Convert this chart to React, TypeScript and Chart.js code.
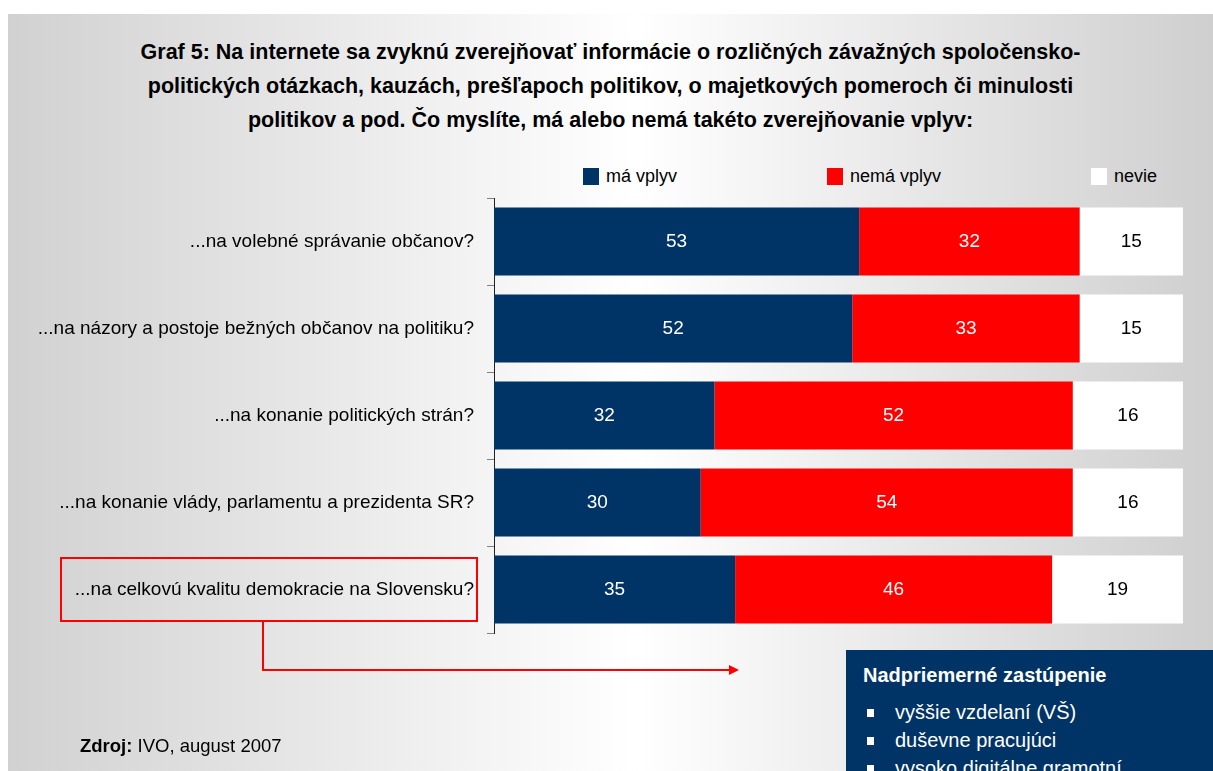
import React, { useEffect, useRef } from "react";
import { Chart, registerables } from "chart.js";

Chart.register(...registerables);

const categories = [
  "...na volebné správanie občanov?",
  "...na názory a postoje bežných občanov na politiku?",
  "...na konanie politických strán?",
  "...na konanie vlády, parlamentu a prezidenta SR?",
  "...na celkovú kvalitu demokracie na Slovensku?",
];
const seriesNames = ["má vplyv", "nemá vplyv", "nevie"];
const maVplyv = [53, 52, 32, 30, 35];
const nemaVplyv = [32, 33, 52, 54, 46];
const nevie = [15, 15, 16, 16, 19];
const seriesColors = ["#003366", "#ff0000", "#ffffff"];
const labelColors = ["#ffffff", "#ffffff", "#000000"];
const titleLines = [
  "Graf 5: Na internete sa zvyknú zverejňovať informácie o rozličných závažných spoločensko-",
  "politických otázkach, kauzách, prešľapoch politikov, o majetkových pomeroch či minulosti",
  "politikov a pod. Čo myslíte, má alebo nemá takéto zverejňovanie vplyv:",
];
const boxTitle = "Nadpriemerné zastúpenie";
const boxItems = ["vyššie vzdelaní (VŠ)", "duševne pracujúci", "vysoko digitálne gramotní"];
const sourceBold = "Zdroj:";
const sourceText = " IVO, august 2007";

const W = 1205;
const H = 757;
const FONT = "'Liberation Sans', Arial, sans-serif";

const valueLabels = {
  id: "valueLabels",
  afterDatasetsDraw(chart: any) {
    const ctx = chart.ctx;
    ctx.save();
    ctx.font = `19px ${FONT}`;
    ctx.textAlign = "center";
    ctx.textBaseline = "middle";
    chart.data.datasets.forEach((ds: any, di: number) => {
      const meta = chart.getDatasetMeta(di);
      meta.data.forEach((bar: any, i: number) => {
        const x = (bar.x + bar.base) / 2;
        ctx.fillStyle = labelColors[di];
        ctx.fillText(String(ds.data[i]), x, bar.y);
      });
    });
    ctx.restore();
  },
};

export default function App() {
  const ref = useRef<HTMLCanvasElement>(null);
  useEffect(() => {
    if (!ref.current) return;
    const data = [maVplyv, nemaVplyv, nevie];
    const chart = new Chart(ref.current, {
      type: "bar",
      data: {
        labels: categories,
        datasets: seriesNames.map((n, i) => ({
          label: n,
          data: data[i],
          backgroundColor: seriesColors[i],
          borderWidth: 0,
          barPercentage: 0.78,
          categoryPercentage: 1,
        })),
      },
      options: {
        indexAxis: "y",
        responsive: false,
        animation: false,
        layout: { padding: { left: 0, top: 184, right: 30, bottom: 138 } },
        plugins: { legend: { display: false }, tooltip: { enabled: false }, title: { display: false } },
        scales: {
          x: { stacked: true, min: 0, max: 100, display: false },
          y: {
            stacked: true,
            afterFit(scale: any) {
              scale.width = 486;
            },
            border: { display: true, color: "#222222", width: 1 },
            grid: { drawOnChartArea: false, drawTicks: true, tickLength: 7, color: "#808080", offset: true },
            ticks: { color: "#000000", font: { family: FONT, size: 19 }, padding: 13 },
          },
        },
      },
      plugins: [valueLabels],
    } as any);
    return () => chart.destroy();
  }, []);

  return (
    <div style={{ position: "fixed", left: 0, top: 0, width: 1213, height: 771, background: "#ffffff", overflow: "hidden" }}>
      <div
        style={{
          position: "absolute",
          left: 8,
          top: 14,
          width: W,
          height: H,
          overflow: "hidden",
          background: "linear-gradient(to right, #d1d1d1 0%, #ffffff 52%, #cfcfcf 100%)",
          fontFamily: FONT,
        }}
      >
        <div
          style={{
            position: "absolute",
            left: 0,
            top: 21,
            width: W,
            textAlign: "center",
            fontWeight: "bold",
            fontSize: 21.5,
            lineHeight: "34px",
            color: "#000",
            whiteSpace: "nowrap",
          }}
        >
          {titleLines.map((l, i) => (
            <div key={i}>{l}</div>
          ))}
        </div>
        {seriesNames.map((n, i) => (
          <div
            key={n}
            style={{ position: "absolute", left: [575, 819, 1083][i], top: 152, display: "flex", alignItems: "center", fontSize: 18 }}
          >
            <span style={{ display: "inline-block", width: 16, height: 17, background: seriesColors[i], marginRight: 7 }} />
            <span>{n}</span>
          </div>
        ))}
        <canvas ref={ref} width={W} height={H} style={{ position: "absolute", left: 0, top: 0 }} />
        <div
          style={{
            position: "absolute",
            left: 52,
            top: 543,
            width: 414,
            height: 61,
            border: "2px solid #ff0000",
          }}
        />
        <svg width={W} height={H} style={{ position: "absolute", left: 0, top: 0 }}>
          <polyline points="255,606 255,656 722,656" fill="none" stroke="#ff0000" strokeWidth={2} />
          <polygon points="721,651 731,656 721,661" fill="#ff0000" />
        </svg>
        <div
          style={{
            position: "absolute",
            left: 838,
            top: 636,
            width: 367,
            height: 140,
            background: "#003366",
            color: "#fff",
          }}
        >
          <div style={{ position: "absolute", left: 17, top: 14, fontWeight: "bold", fontSize: 20 }}>{boxTitle}</div>
          {boxItems.map((t, i) => (
            <div key={t} style={{ position: "absolute", left: 21, top: 51 + i * 28, fontSize: 20, display: "flex", alignItems: "center" }}>
              <span style={{ display: "inline-block", width: 7, height: 8, background: "#fff", marginRight: 21 }} />
              <span>{t}</span>
            </div>
          ))}
        </div>
        <div style={{ position: "absolute", left: 72, top: 721, fontSize: 18.5, color: "#000" }}>
          <b>{sourceBold}</b>
          {sourceText}
        </div>
      </div>
    </div>
  );
}
